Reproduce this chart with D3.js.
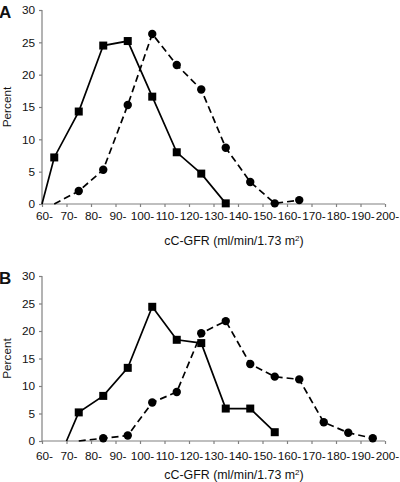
<!DOCTYPE html>
<html><head><meta charset="utf-8">
<script src="https://cdn.jsdelivr.net/npm/d3@7"></script>
<style>body{margin:0;background:#fff}svg{display:block;font-family:Arial,"Liberation Sans",sans-serif}</style>
</head><body><svg id="c" width="400" height="482"></svg>
<script>
// tick labels (bins)
const binStarts = [60,70,80,90,100,110,120,130,140,150,160,170,180,190,200];
const yTicks = [0,5,10,15,20,25,30];
// Panel A
const aSquareX = [60,65,75,85,95,105,115,125,135];
const aSquareY = [0,7.2,14.3,24.5,25.2,16.6,8.0,4.7,0.1];
const aCircleX = [65,75,85,95,105,115,125,135,145,155,165];
const aCircleY = [0,2.0,5.3,15.3,26.3,21.5,17.7,8.7,3.4,0.1,0.6];
// Panel B
const bSquareX = [70,75,85,95,105,115,125,135,145,155];
const bSquareY = [0,5.2,8.2,13.3,24.4,18.4,17.8,5.9,5.9,1.6];
const bCircleX = [75,85,95,105,115,125,135,145,155,165,175,185,195];
const bCircleY = [0,0.5,1.0,7.0,8.9,19.6,21.8,14.0,11.7,11.2,3.4,1.5,0.5];

const svg = d3.select("#c");
const axisColor = "#808080";

function panel(letter, top, bottom, pad, titleOff, sqX, sqY, ciX, ciY){
  const x = d3.scaleLinear().domain([60,200]).range([42,385]);
  const y = d3.scaleLinear().domain([0,30]).range([bottom, top]);
  const g = svg.append("g");
  const ya = g.append("g").attr("transform","translate(42,0)")
    .call(d3.axisLeft(y).tickValues(yTicks).tickSize(3).tickPadding(4));
  const xa = g.append("g").attr("transform",`translate(0,${bottom})`)
    .call(d3.axisBottom(x).tickValues(binStarts).tickSize(3).tickPadding(pad).tickFormat(d=>d+"-"));
  [ya,xa].forEach(a=>{
    a.select(".domain").attr("stroke",axisColor).attr("stroke-width",1.2);
    a.selectAll(".tick line").attr("stroke",axisColor).attr("stroke-width",1.2);
    a.selectAll("text").attr("fill","#111").style("font-size","11.8px");
  });
  xa.selectAll(".tick text").attr("dx","2");
  ya.select(".domain").attr("d",`M0,${top}V${bottom}`);
  xa.select(".domain").attr("d",`M42,0H385`);
  g.append("text").attr("x",-1).attr("y",top+8).text(letter)
    .style("font-size","17px").style("font-weight","bold").attr("fill","#111");
  g.append("text").attr("transform",`translate(11,${(top+bottom)/2}) rotate(-90)`)
    .attr("text-anchor","middle").style("font-size","11.8px").attr("fill","#111").text("Percent");
  const t = g.append("text").attr("x",234).attr("y",bottom+titleOff).attr("text-anchor","middle")
    .style("font-size","12.4px").attr("fill","#111");
  t.append("tspan").text("cC-GFR (ml/min/1.73 m");
  t.append("tspan").attr("dy","-4").style("font-size","8px").text("2");
  t.append("tspan").attr("dy","4").text(")");

  const line = d3.line().x(d=>x(d[0])).y(d=>y(d[1]));
  const sq = sqX.map((v,i)=>[v,sqY[i]]);
  const ci = ciX.map((v,i)=>[v,ciY[i]]);
  g.append("path").attr("d",line(ci)).attr("fill","none").attr("stroke","#000")
    .attr("stroke-width",1.7).attr("stroke-dasharray","7,4");
  g.append("path").attr("d",line(sq)).attr("fill","none").attr("stroke","#000").attr("stroke-width",1.7);
  g.selectAll(".ci").data(ci.slice(1)).enter().append("circle")
    .attr("cx",d=>x(d[0])).attr("cy",d=>y(d[1])).attr("r",4.2).attr("fill","#000");
  g.selectAll(".sq").data(sq.slice(1)).enter().append("rect")
    .attr("x",d=>x(d[0])-4).attr("y",d=>y(d[1])-4).attr("width",8).attr("height",8).attr("fill","#000");
}
panel("A", 10, 204, 5, 41, aSquareX, aSquareY, aCircleX, aCircleY);
panel("B", 276, 441, 8, 38, bSquareX, bSquareY, bCircleX, bCircleY);
</script></body></html>
